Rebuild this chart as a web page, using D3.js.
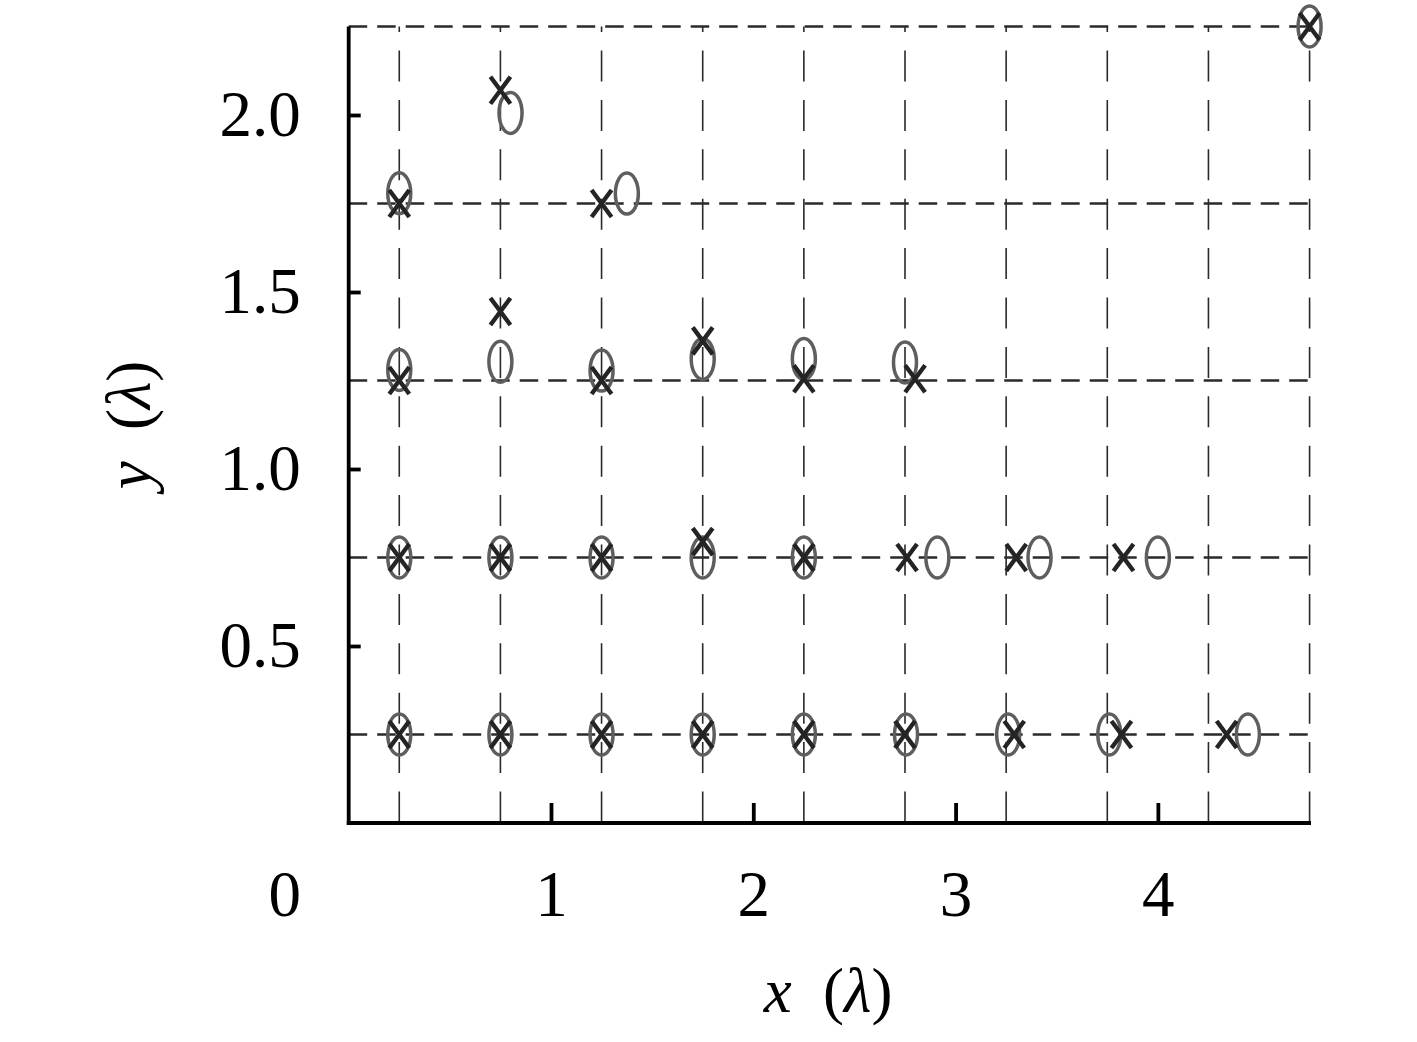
<!DOCTYPE html>
<html>
<head>
<meta charset="utf-8">
<script src="https://cdn.jsdelivr.net/npm/d3@7"></script>
<style>
  html, body { margin: 0; padding: 0; background: #fff; }
  svg { display: block; }
</style>
</head>
<body>
<svg id="chart" width="1417" height="1042"></svg>
<script>
// ---------- data ----------
const crossX = [0.25, 0.75, 1.25, 1.75, 2.25, 2.75, 3.29, 3.82, 4.34,
                0.25, 0.75, 1.25, 1.75, 2.25, 2.76, 3.30, 3.83,
                0.25, 0.75, 1.25, 1.75, 2.25, 2.80,
                0.25, 0.75, 1.25,
                4.75];
const crossY = [0.25, 0.25, 0.25, 0.25, 0.25, 0.25, 0.25, 0.25, 0.25,
                0.75, 0.75, 0.75, 0.795, 0.75, 0.75, 0.75, 0.75,
                1.25, 1.445, 1.25, 1.362, 1.255, 1.255,
                1.75, 2.07, 1.75,
                2.25];
const circleX = [0.25, 0.75, 1.25, 1.75, 2.25, 2.755, 3.26, 3.76, 4.445,
                 0.25, 0.75, 1.25, 1.75, 2.25, 2.91, 3.415, 4.0,
                 0.25, 0.75, 1.25, 1.75, 2.25, 2.75,
                 0.25, 0.80, 1.375,
                 4.75];
const circleY = [0.25, 0.25, 0.25, 0.25, 0.25, 0.25, 0.25, 0.25, 0.25,
                 0.75, 0.75, 0.75, 0.75, 0.75, 0.75, 0.75, 0.75,
                 1.28, 1.303, 1.278, 1.311, 1.311, 1.301,
                 1.779, 2.006, 1.778,
                 2.25];
const gridX = [0.25, 0.75, 1.25, 1.75, 2.25, 2.75, 3.25, 3.75, 4.25, 4.75];
const gridY = [0.25, 0.75, 1.25, 1.75, 2.25];
const xTicks = [1, 2, 3, 4];
const yTicks = [0.5, 1.0, 1.5, 2.0];
const originLabel = "0";

// ---------- scales ----------
const svg = d3.select("#chart");
const x = d3.scaleLinear().domain([0, 4.757]).range([348.7, 1311]);
const y = d3.scaleLinear().domain([0, 2.25]).range([823, 26.5]);
const font = "'Liberation Serif', 'Times New Roman', serif";

// ---------- grid ----------
const grid = svg.append("g");
grid.selectAll("line.v").data(gridX).join("line")
  .attr("class", "v")
  .attr("x1", d => x(d)).attr("x2", d => x(d))
  .attr("y1", y(2.25)).attr("y2", y(0))
  .attr("stroke", "#2a2a2a").attr("stroke-width", 1.6)
  .attr("stroke-dasharray", "31,18.4").attr("stroke-dashoffset", 25.4);
grid.selectAll("line.h").data(gridY).join("line")
  .attr("class", "h")
  .attr("x1", x(0)).attr("x2", x.range()[1])
  .attr("y1", d => y(d)).attr("y2", d => y(d))
  .attr("stroke", "#2a2a2a").attr("stroke-width", 2.3)
  .attr("stroke-dasharray", "18.5,10");

// ---------- markers ----------
const circles = d3.range(circleX.length).map(i => ({x: circleX[i], y: circleY[i]}));
const crosses = d3.range(crossX.length).map(i => ({x: crossX[i], y: crossY[i]}));

svg.append("g").selectAll("ellipse").data(circles).join("ellipse")
  .attr("cx", d => x(d.x)).attr("cy", d => y(d.y))
  .attr("rx", 11.5).attr("ry", 20.5)
  .attr("fill", "none").attr("stroke", "#5e5e5e").attr("stroke-width", 3.5);

svg.append("g").selectAll("path").data(crosses).join("path")
  .attr("transform", d => `translate(${x(d.x)},${y(d.y)})`)
  .attr("d", "M-10,-13.5L10,13.5M-10,13.5L10,-13.5")
  .attr("fill", "none").attr("stroke", "#242424").attr("stroke-width", 4.4);

// ---------- axes ----------
const yAxis = svg.append("g").attr("transform", `translate(${x(0)},0)`)
  .call(d3.axisLeft(y).tickValues(yTicks).tickFormat(d3.format(".1f"))
        .tickSizeInner(-12).tickSizeOuter(0).tickPadding(48));
const xAxis = svg.append("g").attr("transform", `translate(0,${y(0)})`)
  .call(d3.axisBottom(x).tickValues(xTicks).tickFormat(d3.format("d"))
        .tickSizeInner(-20).tickSizeOuter(0).tickPadding(47));

[yAxis, xAxis].forEach(a => {
  a.select(".domain").attr("stroke", "#000").attr("stroke-width", 3.8);
  a.selectAll(".tick line").attr("stroke", "#000").attr("stroke-width", 3.8);
  a.selectAll(".tick text").attr("fill", "#000")
    .style("font-family", font).style("font-size", "65px");
});
yAxis.select(".domain").attr("d", `M0,${y(2.25)}V${y(0) + 1.9}`);
xAxis.select(".domain").attr("d", `M${x(0) - 1.9},0H${x.range()[1]}`);

svg.append("text")
  .attr("x", x(0) - 64).attr("y", 916)
  .attr("text-anchor", "middle")
  .style("font-family", font).style("font-size", "65px").attr("fill", "#000")
  .text(originLabel);

// ---------- axis titles ----------
const xt = svg.append("text")
  .attr("x", 828).attr("y", 1012).attr("text-anchor", "middle")
  .style("font-family", font).style("font-size", "63px").attr("fill", "#000")
  .attr("xml:space", "preserve");
xt.append("tspan").style("font-style", "italic").text("x");
xt.append("tspan").text("  (");
xt.append("tspan").style("font-style", "italic").text("λ");
xt.append("tspan").text(")");

const yt = svg.append("text")
  .attr("transform", "translate(150,425) rotate(-90)").attr("text-anchor", "middle")
  .style("font-family", font).style("font-size", "63px").attr("fill", "#000")
  .attr("xml:space", "preserve");
yt.append("tspan").style("font-style", "italic").text("y");
yt.append("tspan").text("  (");
yt.append("tspan").style("font-style", "italic").text("λ");
yt.append("tspan").text(")");
</script>
</body>
</html>
